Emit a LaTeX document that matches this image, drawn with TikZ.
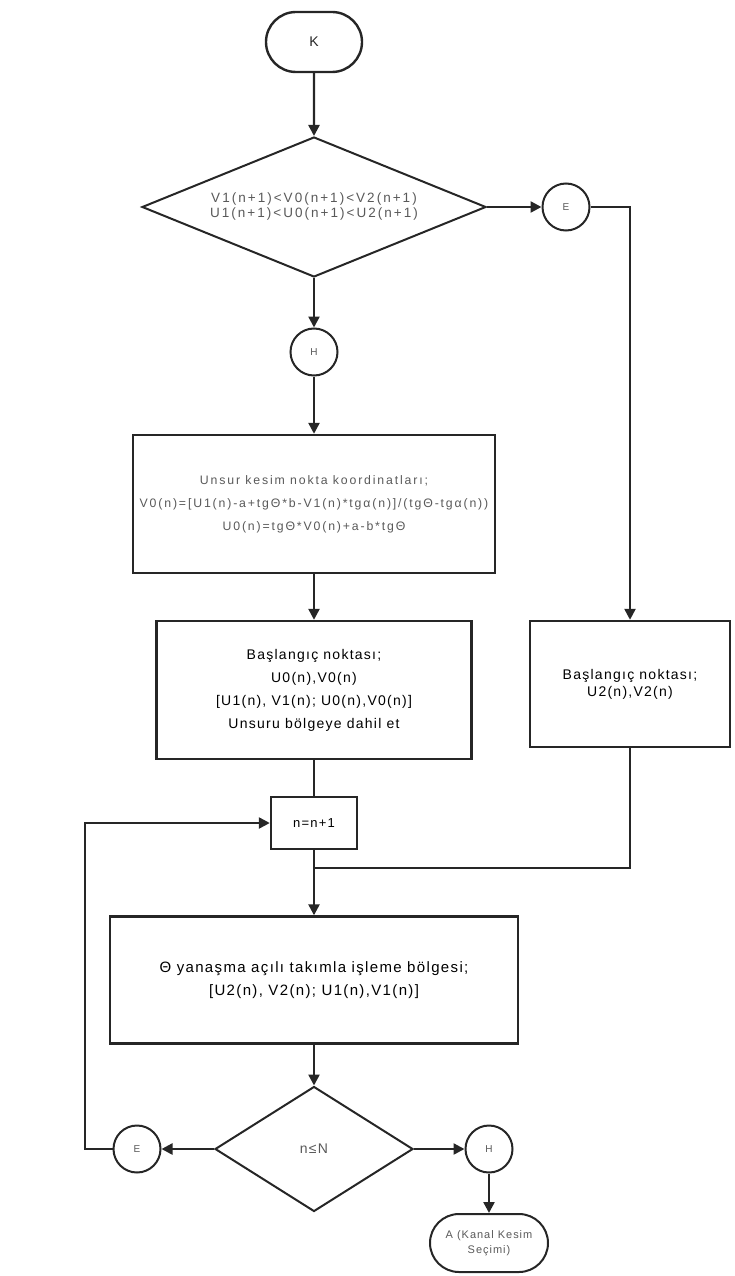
\documentclass[tikz,border=0pt]{standalone}
\usepackage{fontspec}
\setmainfont{Liberation Sans}
\newfontfamily\widesans{Liberation Sans}[LetterSpace=15]
\newfontfamily\midsans{Liberation Sans}[LetterSpace=9]
\usetikzlibrary{arrows.meta,shapes.geometric,shapes.misc}
\begin{document}
\begin{tikzpicture}[x=1pt,y=-1pt,
  base/.style={draw=black!85, line width=2.4pt, text=black!85, align=center, inner sep=2pt},
  light/.style={text=black!65},
  terminal/.style={base, rounded rectangle},
  procbox/.style={base, rectangle},
  decision/.style={base, diamond, inner sep=0pt},
  connector/.style={base, circle, line width=2pt, inner sep=0pt, minimum size=47pt, light, font=\midsans\fontsize{10}{12}\selectfont},
  flow/.style={draw=black!85, line width=2.4pt},
  arr/.style={flow, -{Triangle[length=11pt,width=11pt]}}
]
\useasboundingbox (0,0) rectangle (735,1276);

% main column
\node[terminal, minimum width=100pt, minimum height=60pt, font=\midsans\fontsize{14}{16}\selectfont] (K) at (314,42) {K};
\node[decision, light, line width=2pt, minimum width=344pt, minimum height=140pt, shape aspect=2.46,
      font=\widesans\fontsize{13.5}{15}\selectfont] (D1) at (314,207)
  {V1(n+1)<V0(n+1)<V2(n+1)\\U1(n+1)<U0(n+1)<U2(n+1)};
\node[connector] (E1) at (566,207) {E};
\node[connector] (H1) at (314,352) {H};
\node[procbox, light, minimum width=362pt, minimum height=138pt, font=\widesans\fontsize{12.3}{23}\selectfont] (B1) at (314,504)
  {Unsur kesim nokta koordinatları;\\
   V0(n)=[U1(n)-a+tgΘ*b-V1(n)*tgα(n)]/(tgΘ-tgα(n))\\
   U0(n)=tgΘ*V0(n)+a-b*tgΘ};
\node[procbox, text=black, minimum width=315pt, minimum height=138pt, font=\midsans\fontsize{14}{23}\selectfont] (B2) at (314,690)
  {Başlangıç noktası;\\U0(n),V0(n)\\{}[U1(n), V1(n); U0(n),V0(n)]\\Unsuru bölgeye dahil et};
\node[procbox, text=black, minimum width=200pt, minimum height=126pt, font=\midsans\fontsize{14}{17}\selectfont] (B3) at (630,684)
  {Başlangıç noktası;\\U2(n),V2(n)};
\node[procbox, text=black, minimum width=86pt, minimum height=52pt, font=\midsans\fontsize{13}{15}\selectfont] (N1) at (314,823) {n=n+1};
\node[procbox, text=black, minimum width=408pt, minimum height=127pt, font=\midsans\fontsize{15}{23}\selectfont] (B4) at (314,980)
  {Θ yanaşma açılı takımla işleme bölgesi;\\{}[U2(n), V2(n); U1(n),V1(n)]};
\node[decision, light, line width=2pt, minimum width=198pt, minimum height=125pt, shape aspect=1.58,
      font=\midsans\fontsize{14}{16}\selectfont] (D2) at (314,1149) {n≤N};
\node[connector] (E2) at (137,1149) {E};
\node[connector] (H2) at (489,1149) {H};
\node[terminal, light, line width=2pt, minimum width=120pt, minimum height=58pt, inner sep=1pt, font=\midsans\fontsize{11}{15}\selectfont] (A) at (489,1243)
  {A (Kanal Kesim\\Seçimi)};

% routing points
\coordinate (J) at (314,868);
\coordinate (L) at (85,1149);

% connectors
\draw[arr] (K) -- (D1);
\draw[arr] (D1.east) -- (E1.west);
\draw[arr] (E1.east) -| (B3.north);
\draw[arr] (D1.south) -- (H1.north);
\draw[arr] (H1) -- (B1);
\draw[arr] (B1) -- (B2);
\draw[flow] (B2) -- (N1);
\draw[flow] (B3.south) |- (J);
\draw[arr] (N1) -- (B4);
\draw[arr] (B4) -- (D2);
\draw[arr] (D2.west) -- (E2.east);
\draw[arr] (D2.east) -- (H2.west);
\draw[arr] (E2.west) -- (L) |- (N1.west);
\draw[arr] (H2) -- (A);
\end{tikzpicture}
\end{document}
